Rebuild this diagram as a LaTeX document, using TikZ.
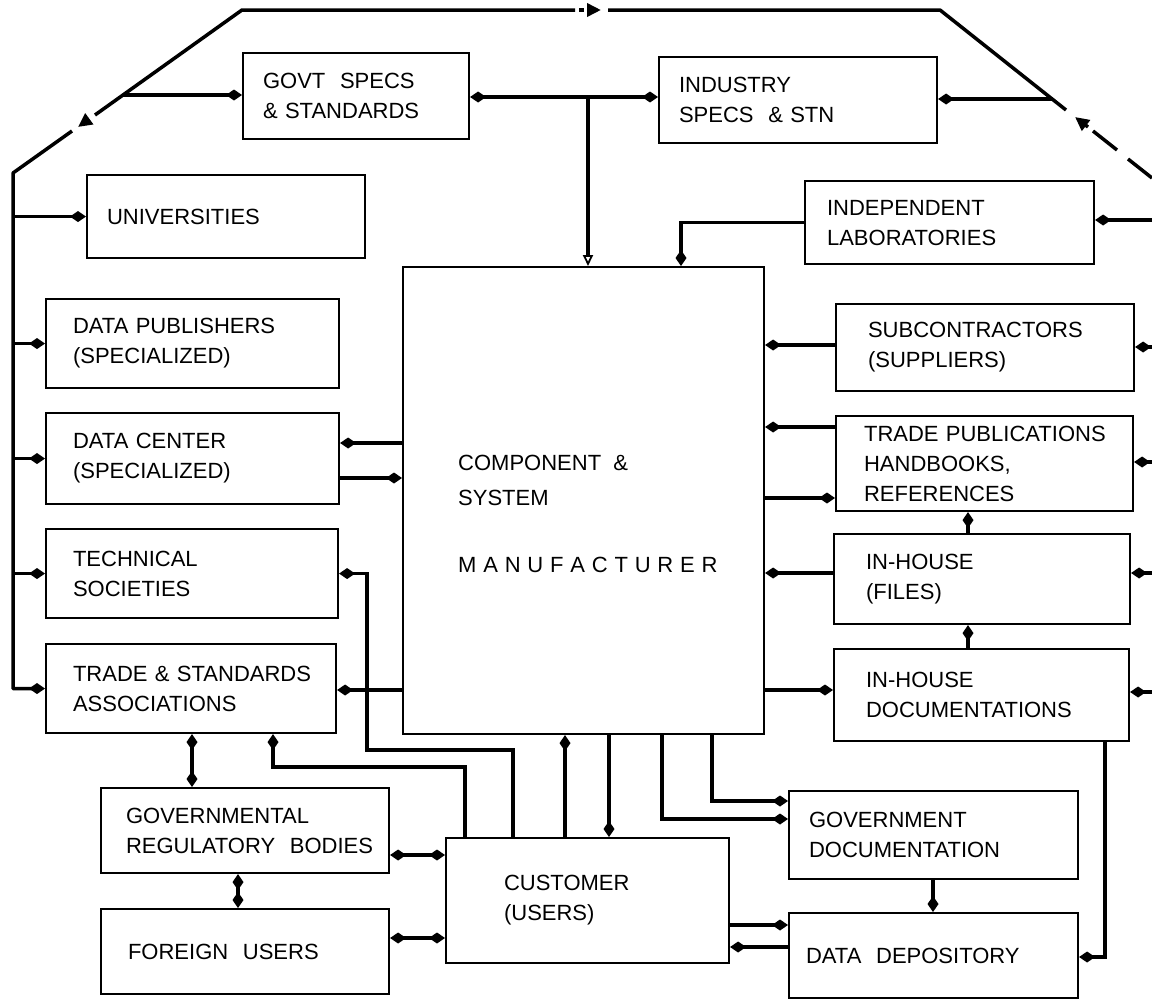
\documentclass[tikz,border=0pt]{standalone}
\usepackage{fontspec}
\setmainfont{Liberation Sans}
\usetikzlibrary{arrows.meta}
\hyphenpenalty=10000
\exhyphenpenalty=10000
\tikzset{
  dm/.tip={Kite[length=16pt,width=11pt,inset=8pt]},
  tri/.tip={Triangle[length=14pt,width=13pt]},
  otri/.tip={Triangle[open,length=11pt,width=10pt,line width=1.8pt]},
  box/.style={draw, line width=2.1pt, anchor=north west, align=left, inner ysep=0pt,
    font=\fontsize{22}{30}\selectfont},
  lbl/.style={anchor=north west, align=left, inner sep=0pt, font=\fontsize{22}{35}\selectfont},
  ln/.style={line width=3.5pt},
}
\newcommand\mkbox[7]{%
  \pgfmathsetmacro\bw{#4-#2}\pgfmathsetmacro\bh{#5-#3}\pgfmathsetmacro\tw{#4-#2-2*#6}%
  \node[box, minimum width=\bw pt, minimum height=\bh pt, text width=\tw pt, inner xsep=#6pt] (#1) at (#2,#3) {#7};}
\newcommand\ls{\kern6.8pt}
\begin{document}
\begin{tikzpicture}[x=1pt,y=-1pt]
\fill[white] (0,0) rectangle (1152,1002);
\useasboundingbox (0,0) rectangle (1152,1002);

% boxes
\mkbox{govt}{242}{52}{468}{138}{20}{GOVT~~SPECS\\\&~STANDARDS}
\mkbox{ind}{658}{56}{936}{142}{20}{INDUSTRY\\SPECS~~\&~STN}
\mkbox{univ}{86}{174}{364}{257}{20}{UNIVERSITIES}
\mkbox{lab}{804}{180}{1093}{263}{22}{INDEPENDENT\\LABORATORIES}
\mkbox{dpub}{45}{298}{338}{387}{27}{DATA~PUBLISHERS\\(SPECIALIZED)}
\mkbox{dcen}{45}{412}{338}{503}{27}{DATA~CENTER\\(SPECIALIZED)}
\mkbox{tech}{45}{528}{337}{617}{27}{TECHNICAL\\SOCIETIES}
\mkbox{trade}{45}{643}{335}{732}{27}{TRADE~\&~STANDARDS\\ASSOCIATIONS}
\mkbox{main}{402}{266}{763}{733}{56}{}
\node[lbl] (mainlbl) at (458,455) {COMPONENT~~\&\\SYSTEM\\[32pt]M\ls A\ls N\ls U\ls F\ls A\ls C\ls T\ls U\ls R\ls E\ls R};
\mkbox{sub}{835}{303}{1133}{390}{32}{SUBCONTRACTORS\\(SUPPLIERS)}
\mkbox{tpub}{835}{415}{1132}{510}{28}{TRADE~PUBLICATIONS\\HANDBOOKS,\\REFERENCES}
\mkbox{files}{833}{533}{1129}{623}{32}{IN-HOUSE\\(FILES)}
\mkbox{doc}{833}{648}{1128}{740}{32}{IN-HOUSE\\DOCUMENTATIONS}
\mkbox{greg}{100}{787}{388}{872}{25}{GOVERNMENTAL\\REGULATORY~~BODIES}
\mkbox{foreign}{100}{908}{388}{993}{27}{FOREIGN~~USERS}
\mkbox{cust}{445}{837}{728}{962}{58}{CUSTOMER\\(USERS)}
\mkbox{gdoc}{788}{790}{1077}{878}{20}{GOVERNMENT\\DOCUMENTATION}
\mkbox{dep}{788}{912}{1077}{997}{17}{DATA~~DEPOSITORY}

% outer loop
\coordinate (tl) at (242,10);
\coordinate (lc) at (13,173);
\coordinate (tr) at (940,10);
\coordinate (gb) at (122.6,95);
\coordinate (rb) at (1052,99);
\draw[ln,line join=round] (95,115) -- (tl) -- (575,10);
\draw[ln] (579,10) -- (584,10);
\draw[ln,-tri] (587,10) -- (601,10);
\draw[ln,line join=round] (608,10) -- (tr) -- (1066,110);
\draw[ln,-tri] (1088,127) -- (1075,117);
\draw[ln] (1093,131) -- (1117,150);
\draw[ln] (1128,159) -- (1152,178);
\draw[ln,-tri] (89,119) -- (78,127);
\draw[ln,line join=round,-dm] (72,131) -- (lc) |- (trade.west);
\foreach \b in {univ,dpub,dcen,tech} \draw[ln,-dm] (lc |- \b.west) -- (\b.west);
\draw[ln,-dm] (gb) -- (govt.west |- gb);
\draw[ln,-dm] (rb) -- (ind.east |- rb);
\coordinate (re) at (1152,220);
\draw[ln,-dm] (re) -- (lab.east |- re);

% top
\draw[ln,dm-dm] (govt.east |- 0,97) -- (ind.west |- 0,97);
\coordinate (drop) at (588,97);
\draw[ln,-otri] (drop) -- (main.north -| drop);
\draw[ln,-dm] (lab.west) -| (main.north -| 681,0);

% left of main
\draw[ln,-dm] (main.west |- 0,443) -- (dcen.east |- 0,443);
\draw[ln,-dm] (dcen.east |- 0,478) -- (main.west |- 0,478);
\draw[ln,-dm] (cust.north -| 513,0) |- (367,750) |- (tech.east);
\draw[ln,-dm] (main.west |- 0,690) -- (trade.east |- 0,690);
\draw[ln,-dm] (cust.north -| 465,0) |- (273,767) -- (trade.south -| 273,0);
\draw[ln,dm-dm] (trade.south -| 192,0) -- (greg.north -| 192,0);
\draw[ln,dm-dm] (greg.south -| 238,0) -- (foreign.north -| 238,0);
\draw[ln,dm-dm] (greg.east |- 0,855) -- (cust.west |- 0,855);
\draw[ln,dm-dm] (foreign.east |- 0,938) -- (cust.west |- 0,938);

% bottom of main
\draw[ln,-dm] (cust.north -| 565,0) -- (main.south -| 565,0);
\draw[ln,-dm] (main.south -| 609,0) -- (cust.north -| 609,0);
\draw[ln,-dm] (main.south -| 662,0) |- (gdoc.west |- 0,819);
\draw[ln,-dm] (main.south -| 712,0) |- (gdoc.west |- 0,801);
\draw[ln,-dm] (cust.east |- 0,925) -- (dep.west |- 0,925);
\draw[ln,-dm] (dep.west |- 0,947) -- (cust.east |- 0,947);
\draw[ln,-dm] (gdoc.south -| 933,0) -- (dep.north -| 933,0);
\draw[ln,-dm] (doc.south -| 1105,0) |- (dep.east |- 0,957);

% right of main
\draw[ln,-dm] (sub.west |- 0,345) -- (main.east |- 0,345);
\draw[ln,-dm] (tpub.west |- 0,427) -- (main.east |- 0,427);
\draw[ln,-dm] (main.east |- 0,498) -- (tpub.west |- 0,498);
\draw[ln,-dm] (files.west |- 0,573) -- (main.east |- 0,573);
\draw[ln,-dm] (main.east |- 0,690) -- (doc.west |- 0,690);
\draw[ln,-dm] (files.north -| 968,0) -- (tpub.south -| 968,0);
\draw[ln,-dm] (doc.north -| 968,0) -- (files.south -| 968,0);

% right edge
\draw[ln,-dm] (1152,347) -- (sub.east |- 0,347);
\draw[ln,-dm] (1152,462) -- (tpub.east |- 0,462);
\draw[ln,-dm] (1152,573) -- (files.east |- 0,573);
\draw[ln,-dm] (1152,692) -- (doc.east |- 0,692);
\end{tikzpicture}
\end{document}
